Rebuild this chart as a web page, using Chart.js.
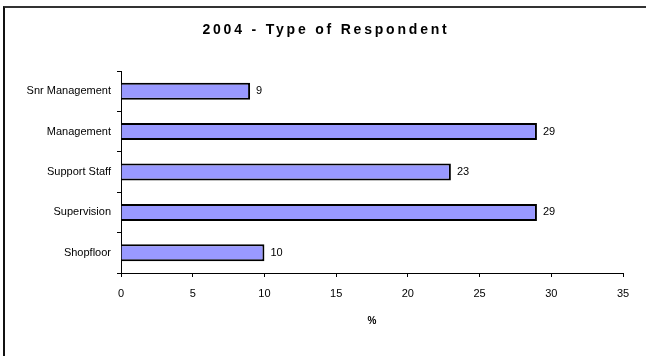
<!DOCTYPE html>
<html>
<head>
<meta charset="utf-8">
<script src="https://cdn.jsdelivr.net/npm/chart.js@4.4.1/dist/chart.umd.min.js"></script>
<style>
  html, body { margin: 0; padding: 0; background: #fff; }
  .frame {
    position: absolute; left: 3px; top: 6px; width: 643px; height: 350px;
    border-top: 2px solid #333; border-left: 2px solid #111;
  }
  .chart { position: absolute; left: 0; top: 0; width: 646px; height: 356px; }
</style>
</head>
<body>
<div class="frame"></div>
<div class="chart"><canvas id="respondents"></canvas></div>
<script>
const chartTitle = '2004 - Type of Respondent';
const categories = ['Snr Management', 'Management', 'Support Staff', 'Supervision', 'Shopfloor'];
const percentages = [9, 29, 23, 29, 10];
const axisMin = 0;
const axisMax = 35;
const axisStep = 5;
const axisTitle = '%';

Chart.defaults.font.family = 'Arial, "Liberation Sans", sans-serif';
Chart.defaults.color = '#000';

// title with wide letter spacing, drawn straight onto the canvas
const spacedTitle = {
  id: 'spacedTitle',
  afterDraw(chart) {
    const { ctx } = chart;
    ctx.save();
    ctx.font = 'bold 14px Arial, "Liberation Sans", sans-serif';
    ctx.letterSpacing = '2.8px';
    ctx.fillStyle = '#000';
    ctx.textAlign = 'center';
    ctx.textBaseline = 'middle';
    ctx.fillText(chartTitle, 326, 30);
    ctx.restore();
  }
};

// value written just past the end of each bar
const valueLabels = {
  id: 'valueLabels',
  afterDatasetsDraw(chart) {
    const { ctx } = chart;
    const meta = chart.getDatasetMeta(0);
    ctx.save();
    ctx.font = '11px Arial, "Liberation Sans", sans-serif';
    ctx.fillStyle = '#000';
    ctx.textAlign = 'left';
    ctx.textBaseline = 'middle';
    meta.data.forEach((bar, i) => {
      ctx.fillText(String(percentages[i]), bar.x + 6, bar.y);
    });
    ctx.restore();
  }
};

new Chart(document.getElementById('respondents'), {
  type: 'bar',
  data: {
    labels: categories,
    datasets: [{
      data: percentages,
      backgroundColor: '#9999ff',
      borderColor: '#000',
      borderWidth: 2,
      barPercentage: 0.42,
      categoryPercentage: 1
    }]
  },
  options: {
    indexAxis: 'y',
    responsive: true,
    maintainAspectRatio: false,
    animation: false,
    layout: { padding: { top: 71, right: 23, left: 0, bottom: 0 } },
    plugins: {
      legend: { display: false },
      tooltip: { enabled: false }
    },
    scales: {
      x: {
        min: axisMin,
        max: axisMax,
        ticks: { stepSize: axisStep, font: { size: 11 }, padding: 10 },
        grid: { drawOnChartArea: false, tickLength: 4, color: '#000' },
        border: { color: '#000' },
        title: {
          display: true,
          text: axisTitle,
          font: { size: 10, weight: 'bold' },
          padding: { top: 0, bottom: 29 }
        },
        afterFit(scale) { scale.height = 83; }
      },
      y: {
        ticks: { font: { size: 11 }, padding: 6 },
        grid: { drawOnChartArea: false, tickLength: 4, color: '#000' },
        border: { color: '#000' },
        afterFit(scale) { scale.width = 121; }
      }
    }
  },
  plugins: [valueLabels, spacedTitle]
});
</script>
</body>
</html>
